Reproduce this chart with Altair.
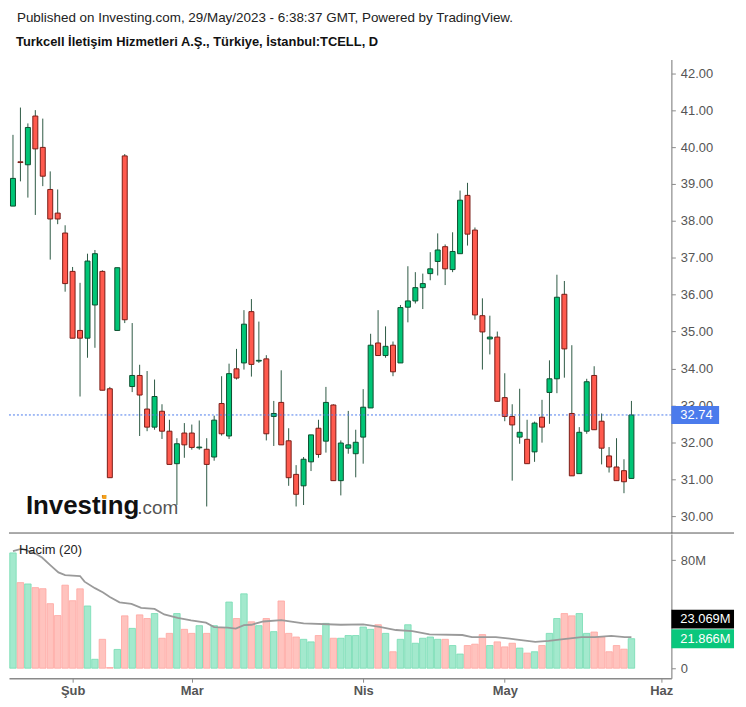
import altair as alt
import pandas as pd

# ---------------- data ----------------
opens = [38.40, 39.60, 39.52, 40.84, 39.99, 38.85, 38.21, 37.67, 36.63, 35.03,
         34.82, 35.72, 36.63, 33.45, 35.03, 39.76, 33.51, 33.81, 32.90, 32.41,
         32.84, 32.30, 31.42, 32.25, 32.25, 31.85, 31.81, 31.60, 33.05, 32.17,
         33.99, 34.15, 35.54, 34.20, 34.26, 32.70, 33.08, 32.04, 31.13, 30.82,
         31.47, 32.38, 32.03, 33.01, 30.96, 31.84, 31.69, 32.14, 32.93, 34.69,
         34.35, 34.63, 34.15, 35.66, 35.83, 36.19, 36.57, 36.90, 37.30, 36.68,
         37.11, 38.69, 37.75, 35.43, 34.80, 34.85, 33.21, 32.70, 32.14, 32.08,
         31.74, 32.68, 33.35, 33.72, 36.01, 32.78, 31.15, 32.30, 33.81, 32.57,
         31.63, 31.33, 31.23, 31.02]
highs = [40.33, 41.07, 40.64, 41.00, 40.77, 39.34, 38.85, 37.88, 36.75, 36.32,
         37.11, 37.21, 36.66, 33.50, 36.73, 39.81, 35.23, 34.10, 33.93, 33.70,
         33.03, 32.61, 32.11, 32.52, 32.48, 32.59, 32.11, 32.72, 33.79, 34.13,
         34.53, 35.58, 35.88, 35.27, 34.36, 33.12, 33.95, 32.38, 31.38, 31.60,
         32.20, 32.61, 33.50, 33.03, 32.05, 32.85, 32.34, 33.44, 34.94, 35.58,
         35.14, 34.73, 35.72, 36.77, 36.61, 36.57, 37.15, 37.66, 37.36, 37.69,
         38.82, 39.03, 37.82, 35.90, 35.43, 35.00, 33.87, 33.03, 33.45, 32.61,
         32.56, 33.15, 34.22, 36.54, 36.37, 34.63, 32.41, 33.72, 34.06, 32.78,
         31.87, 32.11, 31.54, 33.12]
lows = [38.40, 39.07, 38.63, 38.16, 38.94, 36.95, 37.91, 36.08, 34.82, 33.24,
        34.29, 34.56, 33.41, 31.04, 35.03, 35.23, 33.36, 32.17, 32.30, 32.34,
        32.09, 31.40, 30.30, 31.58, 31.80, 31.80, 30.26, 31.50, 32.18, 32.09,
        33.70, 33.97, 33.78, 34.15, 32.05, 31.90, 31.93, 30.82, 30.26, 30.30,
        31.22, 31.58, 31.72, 30.96, 30.56, 31.69, 31.05, 31.42, 32.93, 34.35,
        34.29, 33.79, 34.15, 35.25, 35.76, 35.61, 36.39, 36.52, 36.26, 36.61,
        37.11, 37.33, 35.32, 33.97, 34.38, 33.11, 32.57, 30.96, 31.96, 31.42,
        31.47, 31.99, 32.50, 33.33, 33.75, 31.09, 31.15, 32.23, 32.34, 31.40,
        31.18, 30.96, 30.62, 31.02]
closes = [39.15, 39.58, 40.53, 39.95, 39.21, 38.05, 38.05, 36.30, 34.82, 34.82,
          36.91, 37.11, 33.41, 31.04, 36.73, 35.32, 33.81, 33.28, 32.41, 33.24,
          32.30, 31.40, 31.96, 31.93, 31.86, 31.87, 31.40, 32.60, 32.23, 33.86,
          33.74, 35.20, 34.11, 34.22, 32.23, 32.78, 31.93, 31.04, 30.59, 31.54,
          32.20, 31.67, 33.08, 30.96, 31.98, 31.93, 32.00, 32.95, 34.63, 34.35,
          34.60, 33.91, 35.65, 35.83, 36.19, 36.30, 36.70, 37.21, 36.70, 37.17,
          38.56, 37.64, 35.45, 34.99, 34.85, 33.11, 32.70, 32.47, 32.27, 31.42,
          32.52, 32.41, 33.72, 35.93, 34.53, 31.09, 32.27, 33.64, 32.34, 31.84,
          31.33, 30.96, 30.93, 32.74]
volumes_m = [85.4, 63.4, 62.4, 59.7, 58.9, 47.8, 39.0, 61.5, 50.0, 58.8,
             46.1, 6.6, 21.4, 0.5, 13.9, 38.8, 29.5, 39.5, 36.8, 40.5,
             22.2, 25.8, 40.5, 28.8, 25.8, 31.5, 25.8, 31.5, 30.0, 49.0,
             36.8, 55.1, 34.4, 31.5, 36.8, 27.1, 49.8, 25.8, 23.1, 21.4,
             19.5, 24.2, 33.2, 22.2, 22.2, 24.2, 24.2, 30.5, 28.8, 32.2,
             25.8, 12.2, 21.4, 32.2, 18.5, 22.2, 23.1, 21.4, 21.4, 16.8,
             10.5, 16.8, 17.8, 24.9, 16.8, 19.5, 15.8, 18.5, 14.9, 11.2,
             12.2, 16.8, 25.8, 36.8, 40.5, 38.8, 40.5, 25.8, 26.8, 23.1,
             12.2, 16.8, 14.1, 21.866]
ma_idx = [0, 1.2, 3, 3.9, 5, 6.1, 7, 9, 9.6, 11, 12.1, 13, 14.3, 15.9, 17.2, 19,
          20.3, 22.1, 23.9, 25.9, 27, 28.8, 29.9, 31, 32, 33.6, 36, 37.6, 39, 44,
          47, 49.2, 51.4, 53.6, 55.9, 60.3, 61.6, 64.8, 67.4, 70.1, 71.9, 73.6,
          76.3, 78.1, 80.3, 82.1, 83]
ma_val = [86.8, 88.6, 84.9, 82.0, 76.4, 71.0, 69.0, 68.3, 64.1, 59.3, 56.1, 52.7,
          48.8, 47.6, 44.7, 43.9, 39.8, 37.3, 35.4, 33.7, 30.5, 30.0, 29.3, 31.9,
          32.2, 34.6, 35.6, 34.4, 33.2, 32.2, 32.4, 30.7, 28.3, 27.5, 25.1, 24.6,
          23.1, 23.1, 21.4, 19.5, 20.2, 21.4, 23.1, 23.1, 23.9, 23.1, 23.069]
month_ticks = [8, 24, 47, 66, 87]
month_labels = ["Şub", "Mar", "Nis", "May", "Haz"]
price_ticks = list(range(30, 43))
vol_ticks = [0, 40, 80]
last_price = [32.74]
last_vol = [21.866]
last_vol_ma = [23.069]
heading1 = "Published on Investing.com, 29/May/2023 - 6:38:37 GMT, Powered by TradingView."
heading2 = "Turkcell İletişim Hizmetleri A.Ş., Türkiye, İstanbul:TCELL, D"
vol_title = "Hacim (20)"

# ---------------- style ----------------
FONT = "Liberation Sans"
W = 666
PH = 476
VH = 145
X_DOMAIN = [-0.534, 88.36]
P_DOMAIN = [29.541, 42.369]
V_DOMAIN = [-7.41, 99.4]
UP, DOWN = "#00c576", "#ff5a4e"
UP_EDGE, DOWN_EDGE = "#0b4f2e", "#7a1c16"
WICK = "#2d5a45"
VUP, VDOWN = "#a3e9cd", "#ffc3be"
VUP_EDGE, VDOWN_EDGE = "#74dcb2", "#ffa6a0"
BLUE = "#4b7bec"
AXC = "#8a8a8a"
LAB = "#555555"
RIGHT = 729

n = len(opens)
df = pd.DataFrame({"i": list(range(n)), "open": opens, "high": highs,
                   "low": lows, "close": closes, "vol": volumes_m})
df["dir"] = ["up" if c >= o else "down" for o, c in zip(opens, closes)]
ma_df = pd.DataFrame({"i": ma_idx, "ma": ma_val})

xscale = alt.Scale(domain=X_DOMAIN, nice=False, zero=False, padding=0)
pscale = alt.Scale(domain=P_DOMAIN, nice=False, zero=False)
vscale = alt.Scale(domain=V_DOMAIN, nice=False, zero=False)

paxis = alt.Axis(orient="right", values=price_ticks, format=".2f", title=None,
                 grid=False, labelFont=FONT, labelFontSize=13, labelColor=LAB,
                 tickSize=4, tickColor=AXC, domainColor=AXC, domainWidth=1.2,
                 labelPadding=5)
vaxis = alt.Axis(orient="right", values=vol_ticks, title=None, grid=False,
                 labelExpr="datum.value == 0 ? '0' : datum.value + 'M'",
                 labelFont=FONT, labelFontSize=13, labelColor=LAB,
                 tickSize=4, tickColor=AXC, domainColor=AXC, domainWidth=1.2,
                 labelPadding=5)
expr = "''"
for v, lab in zip(reversed(month_ticks), reversed(month_labels)):
    expr = f"datum.value == {v} ? '{lab}' : ({expr})"
xaxis = alt.Axis(values=month_ticks, labelExpr=expr, title=None, grid=False,
                 labelFont=FONT, labelFontSize=13, labelFontWeight="bold",
                 labelColor=LAB, tickSize=4, tickColor=AXC, domainColor=AXC,
                 domainWidth=1.5, labelPadding=2, labelFlush=False)


def px(field="i"):
    return alt.X(f"{field}:Q", scale=xscale, axis=None)


def py(field):
    return alt.Y(f"{field}:Q", scale=pscale, axis=paxis)


dir_fill = alt.Color("dir:N", scale=alt.Scale(domain=["up", "down"], range=[UP, DOWN]), legend=None)
dir_edge = alt.Stroke("dir:N", scale=alt.Scale(domain=["up", "down"], range=[UP_EDGE, DOWN_EDGE]), legend=None)

base = alt.Chart(df)
wicks = base.mark_rule(color=WICK, strokeWidth=1).encode(x=px(), y=py("low"), y2="high:Q")
bodies = base.mark_bar(size=5, strokeWidth=1).encode(x=px(), y=py("open"), y2="close:Q",
                                                     color=dir_fill, stroke=dir_edge)
lp = alt.Chart(pd.DataFrame({"p": last_price}))
last_line = lp.mark_rule(color=BLUE, strokeDash=[2, 2], strokeWidth=1).encode(
    y=py("p"), x=alt.value(0), x2=alt.value(W))
# label box: a thick rule with square caps (caps add half the width at each end)
last_box = lp.mark_rule(color=BLUE, strokeWidth=18, strokeCap="square").encode(
    y=py("p"), x=alt.value(W + 9), x2=alt.value(W + 39))
last_txt = lp.mark_text(align="left", baseline="middle", color="white", font=FONT,
                        fontSize=13).encode(y=py("p"), x=alt.value(W + 9),
                                            text=alt.Text("p:Q", format=".2f"))
sep = alt.Chart(pd.DataFrame({"a": [0]})).mark_rule(color="#555555", strokeWidth=1).encode(
    x=alt.value(0), x2=alt.value(RIGHT), y=alt.value(PH))
head1 = alt.Chart(pd.DataFrame({"t": [heading1]})).mark_text(
    align="left", baseline="alphabetic", font=FONT, fontSize=13.5, color="#222222").encode(
    x=alt.value(8), y=alt.value(-38), text="t:N")
head2 = alt.Chart(pd.DataFrame({"t": [heading2]})).mark_text(
    align="left", baseline="alphabetic", font=FONT, fontSize=13, fontWeight="bold",
    color="#111111").encode(x=alt.value(7), y=alt.value(-14), text="t:N")
logo1 = alt.Chart(pd.DataFrame({"t": ["Investing"]})).mark_text(
    align="left", baseline="alphabetic", font=FONT, fontSize=26, fontWeight="bold",
    color="#111111").encode(x=alt.value(17), y=alt.value(457), text="t:N")
logo2 = alt.Chart(pd.DataFrame({"t": [".com"]})).mark_text(
    align="left", baseline="alphabetic", font=FONT, fontSize=19,
    color="#555555").encode(x=alt.value(129), y=alt.value(457), text="t:N")
logo_dot = alt.Chart(pd.DataFrame({"a": [0]})).mark_point(
    shape="square", filled=True, size=16, color="#f5a01a", opacity=1).encode(
    x=alt.value(95.9), y=alt.value(439.8))

price = alt.layer(sep, wicks, bodies, last_line, last_box, last_txt, head1, head2,
                  logo1, logo2, logo_dot).properties(width=W, height=PH)


def vy(field):
    return alt.Y(f"{field}:Q", scale=vscale, axis=vaxis)


vdir_fill = alt.Color("dir:N", scale=alt.Scale(domain=["up", "down"], range=[VUP, VDOWN]), legend=None)
vdir_edge = alt.Stroke("dir:N", scale=alt.Scale(domain=["up", "down"], range=[VUP_EDGE, VDOWN_EDGE]), legend=None)
vbars = base.mark_bar(size=6.5, strokeWidth=0.8).encode(
    x=alt.X("i:Q", scale=xscale, axis=xaxis), y=vy("vol"), y2=alt.datum(0),
    color=vdir_fill, stroke=vdir_edge)
maline = alt.Chart(ma_df).mark_line(color="#9a9a9a", strokeWidth=1.8).encode(
    x=alt.X("i:Q", scale=xscale, axis=xaxis), y=vy("ma"))
lv = alt.Chart(pd.DataFrame({"v": last_vol}))
lm = alt.Chart(pd.DataFrame({"v": last_vol_ma}))
lv_box = lv.mark_rule(color="#0ac77d", strokeWidth=19, strokeCap="square").encode(
    y=vy("v"), x=alt.value(W + 9.5), x2=alt.value(RIGHT - 9.5))
lm_box = lm.mark_rule(color="#000000", strokeWidth=19, strokeCap="square", yOffset=-18).encode(
    y=vy("v"), x=alt.value(W + 9.5), x2=alt.value(RIGHT - 9.5))
lv_txt = lv.mark_text(align="left", baseline="middle", color="white", font=FONT,
                      fontSize=13).encode(
    y=vy("v"), x=alt.value(W + 9), text=alt.Text("lab:N")).transform_calculate(
    lab="format(datum.v, '.3f') + 'M'")
lm_txt = lm.mark_text(align="left", baseline="middle", color="white", font=FONT,
                      fontSize=13, yOffset=-18).encode(
    y=vy("v"), x=alt.value(W + 9), text=alt.Text("lab:N")).transform_calculate(
    lab="format(datum.v, '.3f') + 'M'")
vtitle = alt.Chart(pd.DataFrame({"t": [vol_title]})).mark_text(
    align="left", baseline="alphabetic", font=FONT, fontSize=13,
    color="#222222").encode(x=alt.value(10), y=alt.value(20), text="t:N")

volume = alt.layer(vbars, maline, lm_box, lv_box, lm_txt, lv_txt, vtitle).properties(
    width=W, height=VH)

chart = alt.vconcat(price, volume, spacing=0).resolve_scale(
    color="independent", stroke="independent"
).properties(
    padding={"left": 0, "top": 1, "right": 0, "bottom": 0}
).configure_view(strokeWidth=0)

chart.save("out.html", embed_options={"renderer": "svg", "actions": False})
